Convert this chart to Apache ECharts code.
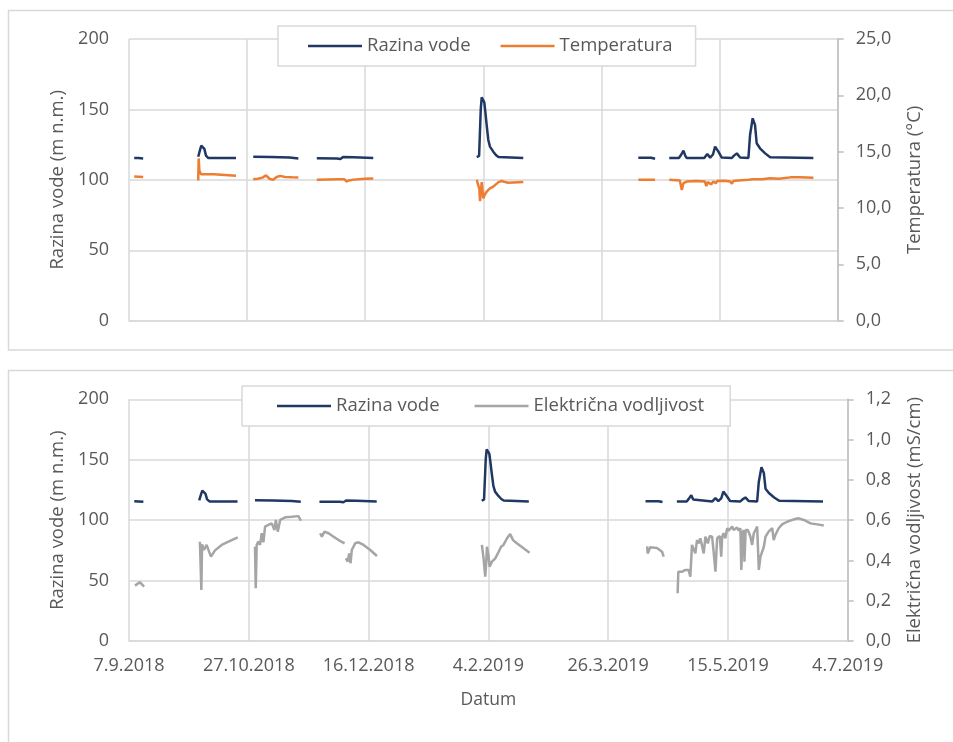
<!DOCTYPE html>
<html>
<head>
<meta charset="utf-8">
<script src="https://cdn.jsdelivr.net/npm/echarts@6/dist/echarts.min.js"></script>
<style>
  html, body { margin: 0; padding: 0; background: #fff; }
  #chart { width: 953px; height: 742px; }
</style>
</head>
<body>
<div id="chart"></div>
<script>
// Monitoring period: day offsets counted from 7.9.2018
const START = Date.UTC(2018, 8, 7);

// Razina vode (m n.m.) — measurement runs as [day, value]
const razinaVode = [
  [[2.2, 115.6], [4, 115.5], [6, 115.2]],
  [[29.3, 116.4], [30.1, 121.5], [30.6, 124.3], [31.2, 124.7], [31.9, 122], [32.6, 117.2], [33.6, 115.5], [45.3, 115.5]],
  [[52.6, 116.4], [60, 116.2], [68, 115.8], [71.7, 115.2]],
  [[79.5, 115.3], [88, 115.2], [89.5, 114.8], [90.6, 116.2], [95, 116], [103.4, 115.5]],
  [[147.2, 116.2], [148.2, 117], [148.6, 117.8], [148.9, 150], [149.3, 158.5], [149.8, 159], [150.4, 155], [150.8, 149],
   [151.4, 139], [152.1, 128.3], [152.8, 123.6], [154.2, 120], [155.4, 117.5], [156.4, 116.2], [157.1, 115.5], [166.9, 115.5]],
  [[215.6, 115.7], [221, 115.7], [222.7, 115.0]],
  [[228.7, 115.5], [232.8, 115.5], [233.8, 118], [234.7, 120.7], [235.5, 117], [236.1, 115.5], [243.5, 115.5], [244.8, 118.3],
   [246, 115.8], [247.2, 118], [248.1, 123.6], [249.5, 120], [250.9, 115.8], [255.2, 115.5], [256.1, 117.2], [257.3, 118.8],
   [258.7, 115.8], [262.2, 115.5], [262.9, 131.8], [264, 143.7], [265, 139], [265.7, 126], [267.1, 122.4], [269.3, 118.8],
   [271.4, 116], [289.7, 115.5]]
];

// Temperatura (°C)
const temperatura = [
  [[2.2, 12.8], [6, 12.75]],
  [[29.3, 12.45], [29.5, 14.4], [29.8, 13.3], [30.5, 13.0], [31.2, 13.1], [36, 13.0], [45.3, 12.87]],
  [[52.6, 12.55], [54.5, 12.6], [56.5, 12.7], [58, 12.9], [59.5, 12.6], [61, 12.5], [62.5, 12.75], [64, 12.85],
   [66, 12.75], [69, 12.72], [71.7, 12.7]],
  [[79.5, 12.5], [88.6, 12.55], [91.2, 12.55], [92, 12.35], [93, 12.45], [95, 12.52], [100, 12.6], [103.4, 12.62]],
  [[147.2, 12.5], [148.3, 11.7], [148.6, 10.6], [149.3, 12.3], [150, 10.85], [150.6, 11.2], [151.4, 11.45], [152.8, 11.75],
   [154.2, 11.9], [156.4, 12.3], [157.8, 12.4], [159.2, 12.3], [160.5, 12.25], [166.9, 12.32]],
  [[215.6, 12.5], [222.7, 12.5]],
  [[228.7, 12.5], [233.2, 12.45], [234, 11.6], [234.7, 12.2], [236.1, 12.35], [240, 12.4], [243.8, 12.35], [244.4, 11.95],
   [245, 12.3], [246.5, 12.1], [247.3, 12.35], [248.4, 12.2], [249, 12.4], [252, 12.42], [254.5, 12.35], [255.2, 12.15],
   [255.8, 12.4], [258, 12.45], [262.2, 12.5], [262.8, 12.65], [264, 12.55], [268, 12.55], [271.4, 12.65], [275, 12.6],
   [280, 12.72], [284, 12.72], [289.7, 12.68]]
];

// Električna vodljivost (mS/cm)
const vodljivost = [
  [[2.5, 0.275], [4.5, 0.292], [6.3, 0.27]],
  [[29.6, 0.493], [30.2, 0.253], [30.5, 0.48], [31.3, 0.452], [32.4, 0.477], [34.2, 0.419], [35.9, 0.45], [38.7, 0.477],
   [41.5, 0.493], [45.4, 0.515]],
  [[52.6, 0.468], [52.9, 0.262], [53.3, 0.477], [54, 0.493], [54.7, 0.477], [55.4, 0.535], [56.1, 0.49], [56.8, 0.568],
   [58.2, 0.576], [59.6, 0.584], [60.7, 0.551], [61.3, 0.601], [62.1, 0.543], [63.1, 0.601], [65.2, 0.614], [68, 0.617],
   [70.7, 0.62], [71.8, 0.597]],
  [[79.8, 0.535], [80.5, 0.518], [81.6, 0.543], [83.3, 0.535], [85.4, 0.518], [87.5, 0.501], [90, 0.485]],
  [[90.5, 0.41], [91.3, 0.394], [91.9, 0.435], [92.5, 0.386], [93, 0.452], [94.4, 0.485], [95.8, 0.49], [97.9, 0.477],
   [100.7, 0.452], [103.5, 0.422]],
  [[147.3, 0.477], [148, 0.41], [148.7, 0.319], [149.1, 0.386], [149.4, 0.468], [150.1, 0.42], [150.5, 0.369],
   [151.5, 0.394], [152.9, 0.41], [154.3, 0.443], [155.3, 0.468], [156.3, 0.477], [157.8, 0.51], [159.1, 0.531],
   [160.3, 0.501], [161.9, 0.485], [164.7, 0.46], [167.2, 0.438]],
  [[216.3, 0.47], [216.5, 0.435], [217.6, 0.465], [220.4, 0.462], [222.5, 0.443], [223.2, 0.419]],
  [[229.0, 0.237], [229.3, 0.344], [230.9, 0.344], [232.3, 0.353], [233.6, 0.353], [234.3, 0.319], [234.6, 0.386],
   [235.0, 0.477], [235.7, 0.468], [236.4, 0.435], [237.1, 0.501], [237.8, 0.485], [238.5, 0.51], [239.2, 0.518],
   [239.9, 0.435], [240.6, 0.518], [241.6, 0.485], [242.4, 0.521], [243.4, 0.518], [244.1, 0.435], [244.8, 0.344],
   [245.5, 0.51], [246.6, 0.521], [247.2, 0.419], [247.6, 0.518], [248.2, 0.535], [248.9, 0.51], [249.7, 0.56],
   [250.3, 0.548], [251.8, 0.568], [252.4, 0.551], [253.8, 0.563], [254.5, 0.548], [255.2, 0.56], [255.6, 0.353],
   [256.1, 0.535], [256.6, 0.551], [256.9, 0.394], [257.4, 0.551], [258.3, 0.551], [259.4, 0.518], [260.1, 0.477],
   [260.8, 0.535], [261.5, 0.551], [262.2, 0.568], [262.9, 0.353], [263.6, 0.419], [265.0, 0.468], [265.7, 0.518],
   [267.0, 0.543], [267.8, 0.551], [268.5, 0.56], [269.1, 0.501], [269.8, 0.526], [271.2, 0.56], [272.6, 0.579],
   [274.7, 0.592], [277.5, 0.604], [279.6, 0.609], [281.7, 0.601], [284.5, 0.584], [287.3, 0.579], [290.0, 0.573]]
];

// Join measurement runs, leaving a break between them
function joinRuns(runs) {
  const out = [];
  runs.forEach((run, i) => {
    if (i > 0) out.push(['-', '-']);
    run.forEach(p => out.push(p));
  });
  return out;
}

function dayLabel(d) {
  const dt = new Date(START + d * 86400000);
  return dt.getUTCDate() + '.' + (dt.getUTCMonth() + 1) + '.' + dt.getUTCFullYear();
}
const comma1 = v => v.toFixed(1).replace('.', ',');

const FONT = 'Open Sans';
const TXT = '#595959';
const GRID = '#d9d9d9';
const C_LEVEL = '#203864';
const C_TEMP = '#ed7d31';
const C_EC = '#a5a5a5';

function xAxisCfg(gridIndex, showLabels) {
  return {
    type: 'value', gridIndex, min: 0, max: 300, interval: 50,
    axisLine: { show: true, lineStyle: { color: GRID, width: 1.5 } },
    axisTick: { show: false },
    splitLine: { show: true, lineStyle: { color: GRID, width: 1.5 } },
    axisLabel: { show: showLabels, formatter: dayLabel, color: TXT, fontFamily: FONT, fontSize: 18, margin: 16 },
    name: showLabels ? 'Datum' : '',
    nameLocation: 'middle', nameGap: 50,
    nameTextStyle: { color: TXT, fontFamily: FONT, fontSize: 17.5 }
  };
}

function leftAxis(gridIndex) {
  return {
    type: 'value', gridIndex, position: 'left', min: 0, max: 200, interval: 50,
    axisLine: { show: false }, axisTick: { show: false },
    splitLine: { show: true, lineStyle: { color: GRID, width: 1.5 } },
    axisLabel: { color: TXT, fontFamily: FONT, fontSize: 18, margin: 20 },
    name: 'Razina vode (m n.m.)', nameLocation: 'middle', nameRotate: 90, nameGap: 60,
    nameTextStyle: { color: TXT, fontFamily: FONT, fontSize: 18.5 }
  };
}

function rightAxis(gridIndex, max, interval, name, gap) {
  return {
    type: 'value', gridIndex, position: 'right', min: 0, max, interval,
    axisLine: { show: true, lineStyle: { color: '#bfbfbf', width: 1.5 } },
    axisTick: { show: true, length: 6, lineStyle: { color: '#bfbfbf', width: 1.5 } },
    splitLine: { show: false },
    axisLabel: { color: TXT, fontFamily: FONT, fontSize: 18, margin: 18, formatter: comma1 },
    name, nameLocation: 'middle', nameRotate: 90, nameGap: gap,
    nameTextStyle: { color: TXT, fontFamily: FONT, fontSize: 18.5 }
  };
}

function lineSeries(name, xi, yi, data, color) {
  return {
    name, type: 'line', xAxisIndex: xi, yAxisIndex: yi, data: joinRuns(data),
    symbol: 'none', showSymbol: false, connectNulls: false,
    lineStyle: { color, width: 2.5 }, itemStyle: { color }
  };
}

const legendBase = {
  orient: 'horizontal', backgroundColor: '#fff', borderColor: GRID, borderWidth: 1.5,
  icon: 'rect', itemWidth: 54, itemHeight: 2.5, itemGap: 30,
  textStyle: { color: TXT, fontFamily: FONT, fontSize: 18.5, lineHeight: 20 }
};

const chart = echarts.init(document.getElementById('chart'), null, { renderer: 'canvas' });
chart.setOption({
  animation: false,
  backgroundColor: '#fff',
  graphic: [
    { type: 'rect', z: -10, silent: true, shape: { x: 8.5, y: 10.5, width: 960, height: 339.5 },
      style: { fill: '#fff', stroke: GRID, lineWidth: 1.5 } },
    { type: 'rect', z: -10, silent: true, shape: { x: 8.5, y: 370.5, width: 960, height: 400 },
      style: { fill: '#fff', stroke: GRID, lineWidth: 1.5 } }
  ],
  grid: [
    { left: 129, top: 39, width: 708.7, height: 281.7 },
    { left: 129, top: 399.3, width: 718.7, height: 241.7 }
  ],
  legend: [
    Object.assign({}, legendBase, { left: 278, top: 26, padding: [10, 23, 10, 30],
      data: ['Razina vode', 'Temperatura'] }),
    Object.assign({}, legendBase, { left: 242, top: 386, padding: [10, 26, 10, 35], itemGap: 35,
      data: ['Razina vode', 'Električna vodljivost'] })
  ],
  xAxis: [xAxisCfg(0, false), xAxisCfg(1, true)],
  yAxis: [
    leftAxis(0),
    rightAxis(0, 25, 5, 'Temperatura (°C)', 68),
    leftAxis(1),
    rightAxis(1, 1.2, 0.2, 'Električna vodljivost (mS/cm)', 58)
  ],
  series: [
    lineSeries('Razina vode', 0, 0, razinaVode, C_LEVEL),
    lineSeries('Temperatura', 0, 1, temperatura, C_TEMP),
    lineSeries('Razina vode', 1, 2, razinaVode, C_LEVEL),
    lineSeries('Električna vodljivost', 1, 3, vodljivost, C_EC)
  ]
});
</script>
</body>
</html>
